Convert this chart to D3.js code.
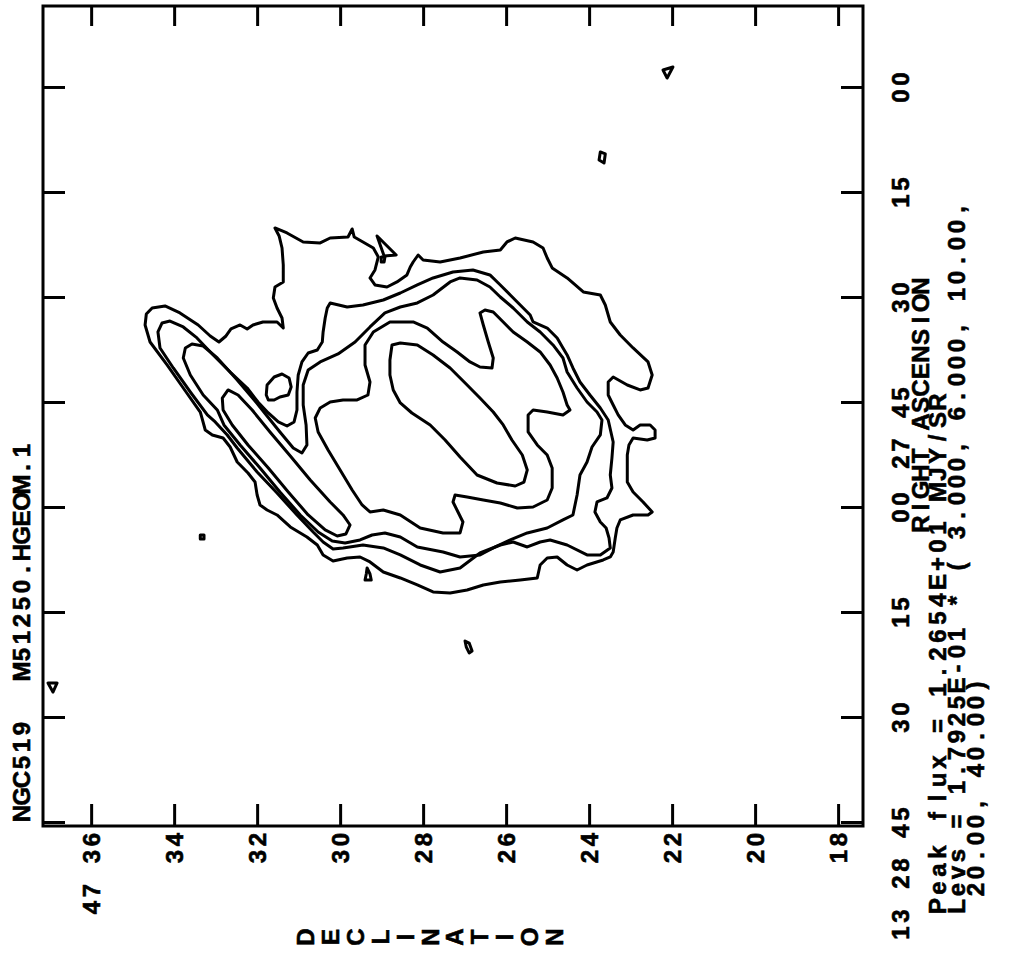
<!DOCTYPE html>
<html>
<head>
<meta charset="utf-8">
<script src="https://cdn.jsdelivr.net/npm/d3@7"></script>
<style>
  html, body { margin: 0; padding: 0; background: #fff; }
  svg { display: block; }
  text { font-family: "Liberation Sans", Arial, Helvetica, sans-serif; font-weight: bold; fill: #000; stroke: #000; stroke-width: 0.6px; }
</style>
</head>
<body>
<svg id="chart" width="1013" height="955"></svg>
<script>
// ---- Map extent: RA in seconds of time after 13h27m00s, Dec in arcmin after +47d00' ----
const raExtent = [-11.71, 105.43];
const decExtent = [17.40, 37.16];

// ---- Axis ticks and labels ----
const raTicks = [0, 15, 30, 45, 60, 75, 90, 105];
const raTickLabels = ["00", "15", "30", "27 45", "00", "15", "30", "13 28 45"];
const decTicks = [36, 34, 32, 30, 28, 26, 24, 22, 20, 18];
const decTickLabels = ["47 36", "34", "32", "30", "28", "26", "24", "22", "20", "18"];

// ---- Header / footer text ----
const mapTitle = ["NGC519", "M51250.HGEOM.1"];
const peakFlux = "Peak flux = 1.2654E+01 MJY/SR";
const levelLines = ["Levs = 1.7925E-01 * ( 3.000, 6.000, 10.00,", "20.00, 40.00)"];
const contourLevels = [3, 6, 10, 20, 40];

// ---- Contours: [RA s, Dec arcmin] vertices ----
const level1Outer = [[33.86,34.70],[32.29,34.67],[31.43,34.53],[31.14,34.22],[32.14,33.86],[33.86,33.42],[35.43,33.13],[36.29,32.92],[35.43,32.75],[34.43,32.63],[33.86,32.41],[34.43,32.24],[33.86,32.10],[33.43,31.86],[33.43,31.52],[34.29,31.37],[32.86,31.40],[31.43,31.52],[30.00,31.61],[28.43,31.57],[27.71,31.37],[25.29,31.37],[22.86,31.40],[21.14,31.47],[20.00,31.57],[20.71,31.28],[22.00,30.89],[22.14,30.48],[21.43,30.24],[21.29,29.81],[20.14,29.71],[21.29,29.66],[22.00,29.45],[22.86,29.20],[24.14,29.08],[26.00,29.16],[27.14,29.28],[28.14,29.16],[28.43,28.87],[27.71,28.63],[26.71,28.39],[25.57,28.31],[24.86,28.24],[23.86,28.12],[24.57,28.00],[24.86,27.59],[24.29,27.11],[23.43,26.55],[23.14,26.14],[22.00,25.98],[21.43,25.78],[22.00,25.35],[22.86,25.11],[24.29,25.01],[25.71,24.89],[27.14,24.53],[29.14,24.14],[29.57,23.73],[31.00,23.61],[33.43,23.49],[35.29,23.25],[37.14,22.94],[39.14,22.58],[41.00,22.48],[42.86,22.58],[43.14,22.77],[42.43,23.08],[41.29,23.42],[42.00,23.54],[43.86,23.54],[45.29,23.42],[46.71,23.30],[48.14,23.13],[48.86,22.94],[48.14,22.77],[48.14,22.53],[48.86,22.41],[50.00,22.41],[50.29,22.60],[50.00,22.94],[51.00,23.04],[52.43,23.08],[56.29,23.08],[57.71,22.94],[59.14,22.70],[60.57,22.48],[61.00,22.58],[61.00,22.94],[61.71,23.25],[62.86,23.33],[64.29,23.37],[66.29,23.42],[67.00,23.49],[67.43,23.66],[68.14,24.05],[68.86,24.29],[68.14,24.53],[67.00,24.77],[67.14,25.01],[68.14,25.18],[70.00,25.25],[70.29,25.66],[70.57,26.14],[71.00,26.55],[71.71,26.94],[72.14,27.35],[72.00,27.76],[71.00,28.14],[70.00,28.55],[69.14,28.96],[67.71,29.28],[67.00,29.52],[67.14,29.83],[67.57,30.17],[66.71,30.41],[65.29,30.55],[64.14,30.80],[62.71,31.20],[61.00,31.52],[60.29,31.76],[59.57,31.93],[58.14,32.00],[56.29,32.05],[55.00,32.22],[53.43,32.48],[51.29,32.65],[50.00,32.82],[49.57,33.08],[48.86,33.25],[47.14,33.33],[46.29,33.37],[42.86,33.78],[39.57,34.17],[36.29,34.58]];

const level2Main = [[30.71,30.24],[31.29,29.83],[31.00,29.45],[30.29,28.96],[29.29,28.55],[28.14,28.14],[27.14,27.76],[26.29,27.28],[26.00,26.80],[26.71,26.39],[28.14,26.14],[29.57,25.90],[31.00,25.66],[32.43,25.42],[33.43,25.35],[34.29,25.01],[35.71,24.77],[37.14,24.63],[38.14,24.53],[40.00,24.39],[42.00,24.22],[43.86,23.98],[45.71,23.73],[47.43,23.54],[50.57,23.42],[52.86,23.45],[55.29,23.49],[57.14,23.45],[58.57,23.57],[59.14,23.81],[60.57,23.86],[62.00,23.73],[62.86,23.59],[64.29,23.52],[65.71,23.49],[66.71,23.73],[66.71,24.05],[65.29,24.53],[64.57,24.94],[64.86,25.18],[65.57,25.49],[64.86,25.83],[65.29,26.14],[66.43,26.63],[68.57,27.11],[69.14,27.59],[68.14,28.07],[66.71,28.55],[65.71,28.96],[65.29,29.45],[65.71,29.93],[65.86,30.17],[64.86,30.41],[63.43,30.65],[61.00,31.04],[57.86,31.52],[54.86,32.00],[51.43,32.48],[49.57,32.72],[47.71,33.01],[46.71,33.20],[43.43,33.61],[40.00,34.02],[37.14,34.34],[34.86,34.39],[33.57,34.29],[33.29,34.10],[34.14,33.78],[35.71,33.45],[38.14,33.06],[40.57,32.65],[42.86,32.24],[44.86,31.98],[46.43,31.73],[47.71,31.49],[48.29,31.28],[47.71,31.11],[46.00,31.04],[43.43,31.04],[41.00,31.01],[39.14,30.92],[37.86,30.77],[37.43,30.55],[36.29,30.43],[34.86,30.41],[32.86,30.36],[31.43,30.31]];

const level2Island = [[43.86,31.78],[42.43,31.76],[41.29,31.59],[40.86,31.40],[41.43,31.23],[42.71,31.18],[43.86,31.25],[44.14,31.45],[44.57,31.59],[44.57,31.73]];

const level3Main = [[31.29,28.55],[30.71,28.14],[29.57,27.76],[27.71,27.35],[27.14,27.11],[27.43,26.70],[28.43,26.39],[29.86,26.14],[31.43,25.83],[33.43,25.49],[34.86,25.18],[36.71,24.87],[38.57,24.63],[40.57,24.53],[42.86,24.29],[44.86,24.05],[46.29,23.81],[47.43,23.69],[49.57,23.73],[51.29,23.93],[53.43,24.05],[55.29,24.22],[58.14,24.29],[61.00,24.39],[61.71,24.63],[62.86,25.01],[63.57,25.49],[64.57,25.90],[65.71,26.31],[66.71,26.63],[67.00,27.11],[66.29,27.52],[65.57,28.14],[64.14,28.55],[63.57,28.92],[63.86,29.23],[64.57,29.52],[65.00,29.88],[64.71,30.19],[63.43,30.53],[61.00,30.96],[57.71,31.45],[54.29,31.93],[51.00,32.41],[48.14,32.80],[46.00,32.96],[43.86,33.30],[41.00,33.61],[38.57,33.78],[37.14,33.73],[36.57,33.57],[36.86,33.30],[38.57,32.96],[41.71,32.48],[44.57,32.07],[46.71,31.78],[49.14,31.45],[51.43,31.13],[52.14,30.92],[51.00,30.80],[48.14,30.82],[45.29,30.89],[42.43,30.89],[40.29,30.77],[39.14,30.48],[38.00,30.05],[36.29,29.64],[34.14,29.28],[32.14,28.92]];

const level4Body = [[33.43,28.80],[33.43,28.55],[33.43,28.24],[34.29,27.90],[36.29,27.52],[37.71,27.18],[39.14,26.87],[39.86,26.63],[40.00,26.34],[38.57,26.31],[36.29,26.43],[33.86,26.55],[32.14,26.63],[31.71,26.51],[32.00,26.31],[33.43,26.07],[34.86,25.83],[36.29,25.49],[37.71,25.18],[39.57,24.94],[41.43,24.77],[43.43,24.63],[45.29,24.53],[46.00,24.46],[46.71,24.63],[46.29,25.01],[46.00,25.35],[46.71,25.47],[49.14,25.47],[51.00,25.25],[52.43,25.01],[54.29,24.89],[57.14,24.89],[58.86,25.01],[59.86,25.35],[60.00,25.73],[59.29,26.14],[58.86,26.55],[58.43,26.94],[58.14,27.23],[59.14,27.28],[60.57,27.16],[62.00,27.04],[63.57,27.11],[63.57,27.52],[62.86,28.07],[61.00,28.55],[60.29,28.96],[60.57,29.28],[59.57,29.47],[57.43,29.71],[54.57,30.00],[51.71,30.29],[49.14,30.53],[47.14,30.60],[45.71,30.48],[44.86,30.24],[44.57,29.93],[44.57,29.59],[43.86,29.33],[42.00,29.28],[39.57,29.40],[36.71,29.40],[34.86,29.20]];

const level4Arm = [[44.29,32.84],[43.14,32.70],[43.86,32.46],[46.00,32.12],[49.14,31.69],[52.57,31.20],[56.00,30.72],[59.14,30.24],[61.00,29.93],[62.43,29.76],[63.71,29.86],[64.00,30.07],[63.14,30.36],[61.00,30.77],[57.71,31.25],[54.29,31.73],[51.00,32.22],[48.14,32.60],[46.00,32.82]];

const level5Core = [[36.71,28.75],[36.43,28.55],[36.71,28.14],[38.14,27.76],[40.00,27.35],[42.43,26.94],[44.29,26.63],[46.29,26.31],[48.14,26.07],[50.29,25.86],[52.43,25.61],[54.57,25.49],[56.29,25.57],[56.86,25.78],[56.43,26.22],[55.29,26.70],[52.71,27.11],[50.29,27.47],[48.14,27.83],[46.43,28.27],[45.00,28.55],[43.14,28.72],[41.00,28.80],[38.86,28.80]];

// small isolated level-1 contours
const level1Specks = [
  [[21.14,29.11],[23.86,28.65],[24.00,28.94]],
  [[24.14,29.01],[24.14,28.92],[24.86,28.94],[24.86,29.01]],
  [[-2.57,22.22],[-3.00,21.98],[-1.43,22.12]],
  [[9.14,23.73],[9.43,23.61],[10.71,23.64],[10.29,23.76]],
  [[63.86,33.37],[63.86,33.28],[64.43,33.28],[64.43,33.37]],
  [[68.57,29.35],[69.43,29.28],[70.29,29.25],[70.29,29.40],[69.43,29.37]],
  [[79.00,26.99],[79.29,26.89],[80.43,26.82],[80.71,26.89],[79.86,26.96]],
  [[85.00,37.04],[85.00,36.82],[86.29,36.92]]
];

const contours = [
  {level: 0, pts: level1Outer},
  {level: 1, pts: level2Main},
  {level: 1, pts: level2Island},
  {level: 2, pts: level3Main},
  {level: 3, pts: level4Body},
  {level: 3, pts: level4Arm},
  {level: 4, pts: level5Core},
  ...level1Specks.map(p => ({level: 0, pts: p}))
];

// ---- Layout: the plot is drawn in sky orientation and turned a quarter-turn ----
const W = 820, H = 820;
const frameLeft = 43, frameBottom = 826;
const fontSize = 24;
const pitch = 17;          // fixed character cell, plotter style

const svg = d3.select("#chart");
const g = svg.append("g")
  .attr("transform", `translate(${frameLeft},${frameBottom}) rotate(-90)`);

// RA increases to the left, Dec increases upward
const x = d3.scaleLinear().domain([raExtent[1], raExtent[0]]).range([0, W]);
const y = d3.scaleLinear().domain(decExtent).range([H, 0]);

const line = d3.line()
  .x(d => x(d[0]))
  .y(d => y(d[1]))
  .curve(d3.curveLinearClosed);

// contours
g.append("g")
  .selectAll("path")
  .data(contours)
  .join("path")
  .attr("d", d => line(d.pts))
  .attr("fill", "none")
  .attr("stroke", "#000")
  .attr("stroke-width", 3)
  .attr("stroke-linejoin", "round")
  .attr("stroke-linecap", "round");

// frame
g.append("rect")
  .attr("x", 0).attr("y", 0).attr("width", W).attr("height", H)
  .attr("fill", "none").attr("stroke", "#000").attr("stroke-width", 3);

// lay a string out in fixed-width cells starting at u
function cells(sel, str, u, p = pitch) {
  const xs = str.split("").map((c, i) => (u + p * (i + 0.5)).toFixed(1)).join(" ");
  sel.attr("x", xs).attr("text-anchor", "middle").text(str);
}

function textStyle(sel) {
  sel.attr("font-family", null).attr("font-size", null)
    .style("font-family", "'Liberation Sans', Arial, sans-serif")
    .style("font-size", fontSize + "px")
    .style("font-weight", "bold")
    .style("fill", "#000")
    .style("stroke", "#000")
    .style("stroke-width", "0.6px");
}

function styleAxis(sel) {
  sel.attr("font-family", null).attr("font-size", null);
  sel.select(".domain").remove();
  sel.selectAll(".tick line").attr("stroke", "#000").attr("stroke-width", 3);
  sel.selectAll(".tick text").call(textStyle);
}

// RA axis (bottom of the sky frame): last field centred on its tick
g.append("g")
  .attr("transform", `translate(0,${H})`)
  .call(d3.axisBottom(x).tickValues(raTicks).tickSize(-22).tickSizeOuter(0)
    .tickPadding(29).tickFormat((d, i) => raTickLabels[i]))
  .call(styleAxis)
  .selectAll(".tick text")
  .each(function(d, i) {
    const s = raTickLabels[i];
    cells(d3.select(this), s, pitch - s.length * pitch);
  });

g.append("g")
  .call(d3.axisTop(x).tickValues(raTicks).tickSize(-22).tickSizeOuter(0).tickFormat(""))
  .call(styleAxis);

// Dec axis (left of the sky frame)
g.append("g")
  .call(d3.axisLeft(y).tickValues(decTicks).tickSize(-22).tickSizeOuter(0)
    .tickPadding(7).tickFormat((d, i) => decTickLabels[i]))
  .call(styleAxis)
  .selectAll(".tick text")
  .attr("dy", "0.36em")
  .each(function(d, i) {
    const s = decTickLabels[i];
    cells(d3.select(this), s, -5 - s.length * pitch);
  });

g.append("g")
  .attr("transform", `translate(${W},0)`)
  .call(d3.axisRight(y).tickValues(decTicks).tickSize(-20).tickSizeOuter(0).tickFormat(""))
  .call(styleAxis);

function label(str, u, baseline, p = pitch) {
  return g.append("text").attr("y", baseline).call(textStyle).call(cells, str, u, p);
}

// axis title along RA, centred
const raTitle = "RIGHT ASCENSION";
label(raTitle, 421 - raTitle.length * pitch / 2, 886);

// peak and contour levels
label(peakFlux, -89, 903, 18);
label(levelLines[0], -89, 922);
label(levelLines[1], -72, 941);

// map name above the frame
label(mapTitle[0], 4, -13);
label(mapTitle[1], 146, -13);

// DECLINATION written downward, one letter per row
g.append("g").selectAll("text")
  .data("DECLINATION".split(""))
  .join("text")
  .call(textStyle)
  .attr("x", -111)
  .attr("y", (d, i) => 271 + i * 24.9)
  .attr("text-anchor", "middle")
  .text(d => d);
</script>
</body>
</html>
